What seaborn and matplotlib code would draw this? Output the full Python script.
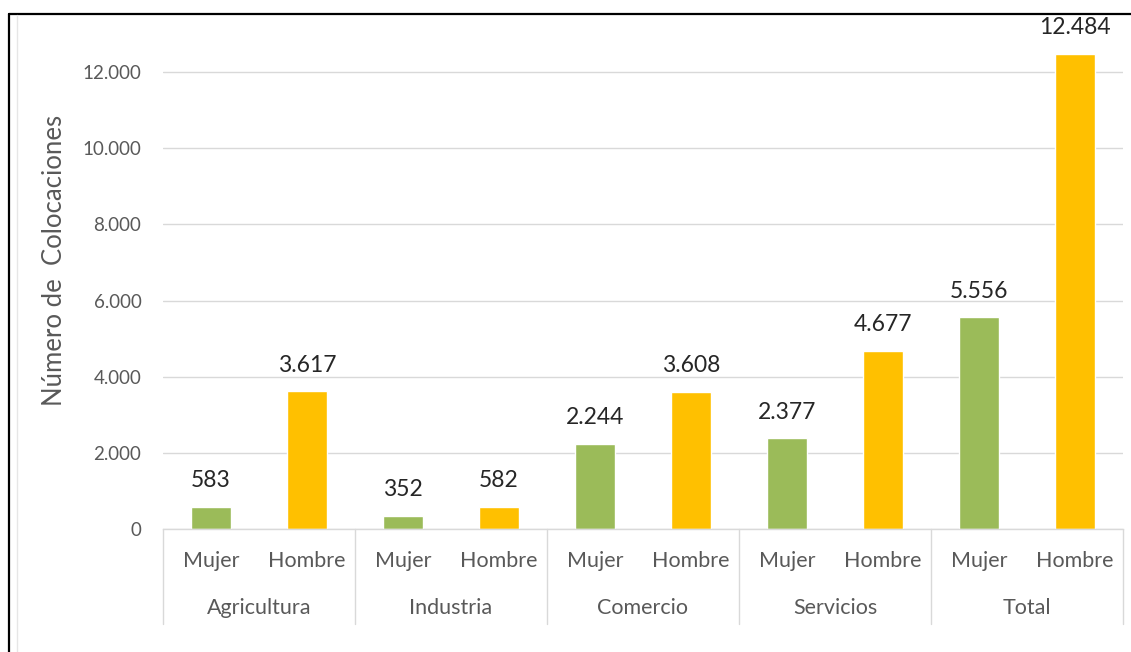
import matplotlib
matplotlib.use("Agg")
import matplotlib.pyplot as plt
from matplotlib.lines import Line2D
import seaborn as sns
import pandas as pd

# Colocaciones por sector y sexo
sectores = ["Agricultura", "Industria", "Comercio", "Servicios", "Total"]
sexos = ["Mujer", "Hombre"]
mujer = [583, 352, 2244, 2377, 5556]
hombre = [3617, 582, 3608, 4677, 12484]
y_ticks = [0, 2000, 4000, 6000, 8000, 10000, 12000]

colores = {"Mujer": "#9BBB59", "Hombre": "#FFC000"}

rows = []
for i, s in enumerate(sectores):
    rows.append({"slot": f"{s}-Mujer", "sexo": "Mujer", "valor": mujer[i]})
    rows.append({"slot": f"{s}-Hombre", "sexo": "Hombre", "valor": hombre[i]})
df = pd.DataFrame(rows)

sns.set_theme(style="white")
plt.rcParams["font.family"] = ["Lato", "DejaVu Sans"]

W, H = 1131, 652
fig = plt.figure(figsize=(W / 100, H / 100), dpi=100)
ax = fig.add_axes([163 / W, 1 - 529 / H, (1123 - 163) / W, (529 - 34) / H])

sns.barplot(data=df, x="slot", y="valor", hue="sexo", palette=colores,
            dodge=False, width=0.41, saturation=1, legend=False, ax=ax)

ax.set_xlim(-0.5, len(df) - 0.5)
ax.set_ylim(0, 13000)
ax.set_yticks(y_ticks)
ax.set_yticklabels([f"{v:,}".replace(",", ".") for v in y_ticks],
                   fontsize=13.5, color="#595959")
ax.tick_params(axis="y", length=0, pad=15.5)
ax.tick_params(axis="x", length=0)
ax.set_xticks([])
ax.set_xlabel("")
ax.set_ylabel("Número de  Colocaciones", fontsize=18.5, color="#595959",
              va="center")
ax.yaxis.set_label_coords((55 - 163) / 960, (529 - 260) / 495)
ax.yaxis.grid(True, color="#D9D9D9", linewidth=1)
ax.set_axisbelow(True)
for side in ["top", "right", "left"]:
    ax.spines[side].set_visible(False)
ax.spines["bottom"].set_color("#D9D9D9")
ax.spines["bottom"].set_linewidth(1)

# Etiquetas de valor sobre cada barra
for patch in ax.patches:
    h = patch.get_height()
    if h <= 0:
        continue
    ax.annotate(f"{int(round(h)):,}".replace(",", "."),
                (patch.get_x() + patch.get_width() / 2, h),
                xytext=(0, 26), textcoords="offset pixels",
                ha="center", va="center", fontsize=16.5, color="#262626")

# Eje de categorías jerárquico: sexo y sector
trans = ax.get_xaxis_transform()
y_sexo = -(561 - 529) / (529 - 34)
y_sector = -(608 - 529) / (529 - 34)
y_sep = -(624 - 529) / (529 - 34)
for i, s in enumerate(sectores):
    for j, sx in enumerate(sexos):
        ax.text(2 * i + j, y_sexo, sx, transform=trans, ha="center",
                va="center", fontsize=15.5, color="#595959")
    ax.text(2 * i + 0.5, y_sector, s, transform=trans, ha="center",
            va="center", fontsize=15.5, color="#595959")
for k in range(len(sectores) + 1):
    ax.add_line(Line2D([2 * k - 0.5, 2 * k - 0.5], [0, y_sep], transform=trans,
                       color="#D9D9D9", linewidth=1, clip_on=False))

# Marco exterior
fig.add_artist(Line2D([8.5 / W, 1.0], [1 - 14 / H, 1 - 14 / H],
                      transform=fig.transFigure, color="black", linewidth=1.6))
fig.add_artist(Line2D([8.5 / W, 8.5 / W], [0.0, 1 - 14 / H],
                      transform=fig.transFigure, color="black", linewidth=1.6))
fig.add_artist(Line2D([17 / W, 17 / W], [0.0, 1 - 15 / H],
                      transform=fig.transFigure, color="#E6E6E6", linewidth=1))

fig.savefig("out.png", dpi=100)
